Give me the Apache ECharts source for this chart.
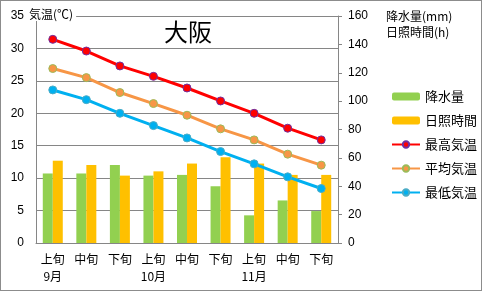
<!DOCTYPE html>
<html>
<head>
<meta charset="utf-8">
<script src="https://cdn.jsdelivr.net/npm/echarts@6/dist/echarts.min.js"></script>
<style>
  html, body { margin: 0; padding: 0; background: #fff; }
  #chart { width: 482px; height: 291px; box-sizing: border-box; border: 1px solid #8c8c8c; }
</style>
</head>
<body>
<div id="chart"></div>
<script>
// 旬ごとのカテゴリ
const categories = ['上旬\n9月', '中旬', '下旬', '上旬\n10月', '中旬', '下旬', '上旬\n11月', '中旬', '下旬'];

// 右軸 (mm / h)
const rainfall = [49, 49, 55, 47.5, 48, 40, 19.5, 30, 22.5];
const sunshine = [58, 55, 47.5, 50.5, 56, 60.5, 56, 48, 48];

// 左軸 (℃)
const tempMax = [31.4, 29.6, 27.3, 25.7, 23.9, 21.9, 20.0, 17.7, 15.9];
const tempAvg = [26.9, 25.5, 23.2, 21.5, 19.7, 17.6, 15.9, 13.7, 12.0];
const tempMin = [23.6, 22.1, 20.0, 18.1, 16.2, 14.1, 12.2, 10.2, 8.4];

const leftTicks = {min: 0, max: 35, interval: 5};
const rightTicks = {min: 0, max: 160, interval: 20};

const font = '"Liberation Sans", "Noto Sans CJK JP", sans-serif';
const jpFont = '"Noto Sans CJK JP", sans-serif';
const gridColor = '#868686';

const chart = echarts.init(document.getElementById('chart'));

function lineSeries(name, data, color, border) {
  return {
    name: name,
    type: 'line',
    yAxisIndex: 0,
    data: data,
    symbol: 'circle',
    symbolSize: 8,
    lineStyle: {color: color, width: 3},
    itemStyle: {color: color, borderColor: border, borderWidth: 1},
    z: 5
  };
}

const option = {
  animation: false,
  title: [
    {
      text: '大阪', left: 158, top: 14,
      textStyle: {fontFamily: jpFont, fontSize: 24, fontWeight: 'normal', color: '#000'}
    },
    {
      text: '気温(℃)', left: 26, top: 6, padding: [1, 3, 1, 2],
      backgroundColor: '#fff',
      textStyle: {fontFamily: jpFont, fontSize: 12, fontWeight: 'normal', color: '#000'}
    },
    {
      text: '降水量(mm)\n日照時間(h)', left: 383, top: 5, padding: 2,
      textStyle: {fontFamily: jpFont, fontSize: 12, fontWeight: 'normal', color: '#000', lineHeight: 16}
    }
  ],
  legend: {
    orient: 'vertical',
    left: 385, top: 84,
    itemWidth: 28, itemHeight: 8, itemGap: 11,
    textStyle: {fontFamily: jpFont, fontSize: 13, color: '#000'},
    data: ['降水量', '日照時間', '最高気温', '平均気温', '最低気温']
  },
  grid: {left: 35, right: 143, top: 15, bottom: 47},
  xAxis: {
    type: 'category',
    data: categories,
    axisLine: {lineStyle: {color: gridColor}},
    axisTick: {inside: true, length: 4, lineStyle: {color: gridColor}},
    axisLabel: {fontFamily: jpFont, fontSize: 12, color: '#000', lineHeight: 17, margin: 8, interval: 0}
  },
  yAxis: [
    {
      type: 'value',
      min: leftTicks.min, max: leftTicks.max, interval: leftTicks.interval,
      axisLine: {show: true, lineStyle: {color: gridColor}},
      axisTick: {show: false},
      splitLine: {lineStyle: {color: gridColor}},
      axisLabel: {fontFamily: font, fontSize: 12, color: '#000', margin: 12}
    },
    {
      type: 'value',
      min: rightTicks.min, max: rightTicks.max, interval: rightTicks.interval,
      axisLine: {show: true, lineStyle: {color: gridColor}},
      axisTick: {show: true, length: 4, lineStyle: {color: gridColor}},
      splitLine: {show: false},
      axisLabel: {fontFamily: font, fontSize: 12, color: '#000', margin: 10}
    }
  ],
  series: [
    {
      name: '降水量', type: 'bar', yAxisIndex: 1, data: rainfall,
      barWidth: 10, barGap: 0, itemStyle: {color: '#92D050'}
    },
    {
      name: '日照時間', type: 'bar', yAxisIndex: 1, data: sunshine,
      barWidth: 10, barGap: 0, itemStyle: {color: '#FFC000'}
    },
    lineSeries('最高気温', tempMax, '#FF0000', '#7030A0'),
    lineSeries('平均気温', tempAvg, '#F79646', '#9BBB59'),
    lineSeries('最低気温', tempMin, '#00B0F0', '#4BACC6')
  ]
};

chart.setOption(option);
</script>
</body>
</html>
